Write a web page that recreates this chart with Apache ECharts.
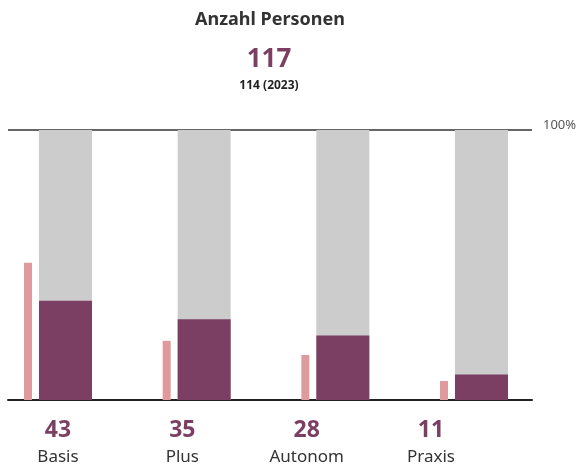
<!DOCTYPE html>
<html>
<head>
<meta charset="utf-8">
<script src="https://cdn.jsdelivr.net/npm/echarts@6/dist/echarts.min.js"></script>
<style>html,body{margin:0;padding:0;background:#fff}#c{width:584px;height:475px}</style>
</head>
<body>
<div id="c"></div>
<script>
const categories = ['Basis', 'Plus', 'Autonom', 'Praxis'];
const values2024 = [43, 35, 28, 11];
const values2023 = [58, 25, 19, 8];
const total2024 = 117;
const total2023 = 114;
const yMax = 100;
const yTickLabels = { 100: '100%' };

const FONT = '"Noto Sans", sans-serif';
const PURPLE = '#7b3f63';
const PINK = '#e09a9e';
const GREY = '#cccccc';

const chart = echarts.init(document.getElementById('c'), null, { renderer: 'canvas' });
chart.setOption({
  animation: false,
  title: [
    { text: 'Anzahl Personen', left: 270, top: 11, textAlign: 'center', padding: 0,
      textStyle: { fontFamily: FONT, fontSize: 18, fontWeight: 'bold', color: '#333' } },
    { text: String(total2024), left: 269, top: 47, textAlign: 'center', padding: 0,
      textStyle: { fontFamily: FONT, fontSize: 26, fontWeight: 'bold', color: PURPLE } },
    { text: total2023 + ' (2023)', left: 269, top: 80, textAlign: 'center', padding: 0,
      textStyle: { fontFamily: FONT, fontSize: 12, fontWeight: 'bold', color: '#222' } }
  ],
  grid: [
    { left: 8, right: 52, top: 130, bottom: 75 },
    { left: 58, right: 110, top: 130, bottom: 75 },
    { left: 58, right: 153, top: 130, bottom: 75 }
  ],
  xAxis: [
    { gridIndex: 0, type: 'value', min: 0, max: 1,
      axisLine: { show: true, lineStyle: { color: '#222', width: 2 } },
      axisTick: { show: false }, axisLabel: { show: false }, splitLine: { show: false } },
    { gridIndex: 1, type: 'category', boundaryGap: false, data: categories, show: false },
    { gridIndex: 2, type: 'category', boundaryGap: false, data: categories,
      axisLine: { show: false }, axisTick: { show: false },
      axisLabel: { interval: 0, margin: 15,
        formatter: function (name, idx) { return '{v|' + values2024[idx] + '}\n{n|' + name + '}'; },
        rich: {
          v: { fontFamily: FONT, fontSize: 23, fontWeight: 'bold', color: PURPLE, lineHeight: 30 },
          n: { fontFamily: FONT, fontSize: 17, color: '#333', lineHeight: 24 }
        } } }
  ],
  yAxis: [
    { gridIndex: 0, type: 'value', position: 'right', min: 0, max: yMax, interval: yMax,
      axisLine: { show: false }, axisTick: { show: false },
      splitLine: { show: true, lineStyle: { color: '#666', width: 2 } },
      axisLabel: { margin: 11, verticalAlign: 'bottom', lineHeight: 9,
        fontFamily: FONT, fontSize: 13, color: '#555',
        formatter: function (v) { return yTickLabels[v] || ''; } } },
    { gridIndex: 1, type: 'value', min: 0, max: yMax, show: false },
    { gridIndex: 2, type: 'value', min: 0, max: 1, show: false }
  ],
  series: [
    { type: 'bar', xAxisIndex: 1, yAxisIndex: 1, silent: true,
      barWidth: 8, barGap: '87.5%',
      itemStyle: { color: PINK },
      data: values2023.map(v => v / total2023 * 100) },
    { type: 'bar', xAxisIndex: 1, yAxisIndex: 1, silent: true,
      barWidth: 53, barGap: '87.5%',
      showBackground: true, backgroundStyle: { color: GREY },
      itemStyle: { color: PURPLE },
      data: values2024.map(v => v / total2024 * 100) }
  ]
});
</script>
</body>
</html>
